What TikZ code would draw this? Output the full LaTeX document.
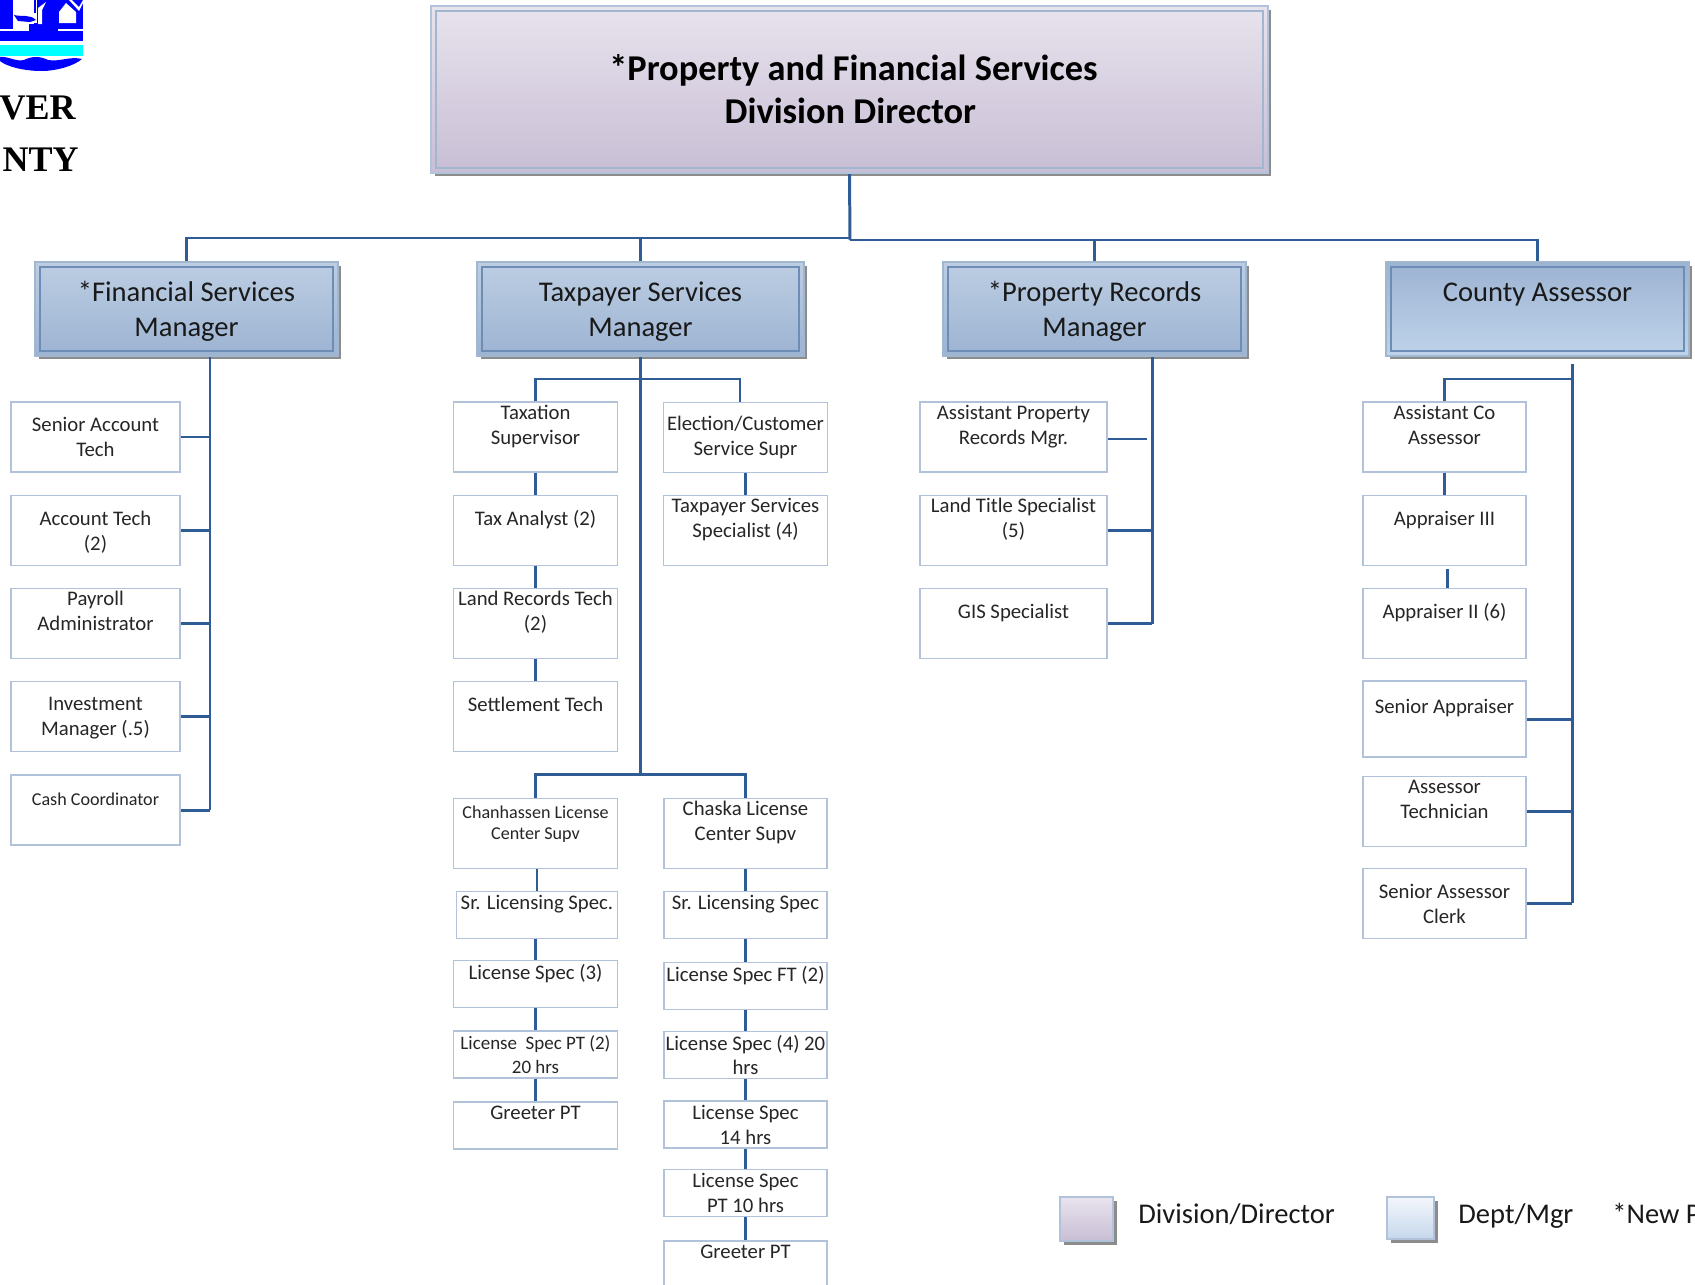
\documentclass[tikz,border=0pt]{standalone}
\usepackage{fontspec}
\setmainfont{Carlito}
\newfontfamily\logofont{Liberation Serif}
\usetikzlibrary{shadows}
\definecolor{orgline}{HTML}{2F5C94}
\definecolor{jobframe}{HTML}{B2C2DB}
\definecolor{logoblue}{HTML}{0000FF}
\definecolor{logocyan}{HTML}{00FFFF}
\definecolor{dirtop}{HTML}{E8E3ED}
\definecolor{dirbottom}{HTML}{C8BED5}
\definecolor{mgrtop}{HTML}{BDCEE3}
\definecolor{mgrbottom}{HTML}{9CB3D2}
\definecolor{mgrpale}{HTML}{BFD3EA}
\definecolor{depttop}{HTML}{F3F6FB}
\definecolor{deptbottom}{HTML}{C6D8EC}
\tikzset{
	connector/.style={draw=orgline, line width=1.7pt},
	doubleframe/.style={path picture={\draw[draw=#1, line width=0.7pt] ([xshift=0.1cm,yshift=0.1cm]path picture bounding box.south west) rectangle ([xshift=-0.1cm,yshift=-0.1cm]path picture bounding box.north east);}},
	lift/.style={drop shadow={shadow xshift=0.07cm, shadow yshift=-0.07cm, fill=black!45, opacity=1}},
	directorbox/.style={rectangle, lift, draw=jobframe, line width=1.2pt, top color=dirtop, bottom color=dirbottom, doubleframe=orgline!45, minimum width=16.74cm, minimum height=3.34cm, inner sep=0pt, align=center, font=\fontsize{20.7}{24.6}\selectfont\bfseries},
	managerbox/.style={rectangle, lift, draw=orgline!45, line width=1pt, top color=mgrtop, bottom color=mgrbottom, doubleframe=orgline!70, minimum width=6.06cm, minimum height=1.88cm, inner sep=0pt, align=center, text=black!90, text height=33.8pt, font=\fontsize{16.25}{19.6}\selectfont},
	jobbox/.style={rectangle, draw=jobframe, fill=white, line width=0.8pt, minimum height=1.4cm, inner sep=0pt, align=center, text=black!85, font=\fontsize{11.8}{14.2}\selectfont},
	smalljob/.style={font=\fontsize{10.3}{12.3}\selectfont},
	swatch/.style={rectangle, lift, draw=jobframe, line width=0.8pt, inner sep=0pt},
	legendtext/.style={inner sep=0pt, anchor=west, text=black!90, text height=12pt, text depth=4pt, font=\fontsize{16.25}{19.6}\selectfont},
	logotext/.style={inner sep=0pt, anchor=base east, font=\fontsize{20.5}{24}\selectfont\logofont\bfseries}
}
\begin{document}
\begin{tikzpicture}[x=0.02cm, y=-0.02cm]
	\useasboundingbox (0,0) rectangle (1695,1285);

	% logo, only its cut off right part
	\fill[logoblue] (0,0) rectangle (83,29);
	\fill[white] (13,0) rectangle (34,31);
	\fill[white] (34,0) -- (37,0) -- (37,23) -- (34,23) -- cycle;
	\fill[logoblue] (14,15) .. controls (22,17) and (30,14) .. (36,20) -- (30,22) -- (18,21) -- cycle;
	\fill[logoblue] (29,24) rectangle (58,31);
	\fill[logoblue] (34,0) rectangle (36,13);
	\fill[white] (38,8) -- (46,2) -- (42,10) -- (42,24) -- (38,24) -- cycle;
	\fill[white] (59,12) -- (66,3) -- (76,12) -- (76,23) -- (59,23) -- cycle;
	\fill[white] (69,0) -- (72,0) -- (79,7) -- (83,0) -- (83,3) -- (79,11) -- cycle;
	\fill[logoblue] (0,31) rectangle (83,41);
	\fill[logocyan] (0,45) rectangle (83,56);
	\fill[logoblue] (0,57) .. controls (8,56) and (16,62) .. (24,60) .. controls (32,56) and (40,56) .. (48,60) .. controls (60,62) and (70,56) .. (82,59) .. controls (74,66) and (56,71) .. (42,71) .. controls (22,71) and (6,66) .. (0,61) -- cycle;
	\node[logotext] (logoLineOne) at (76,119) {VER};
	\node[logotext] (logoLineTwo) at (79,171) {NTY};

	% top of the chart
	\node[directorbox](director) at (849.5,89.5){\hspace*{4.5pt}*Property and Financial Services\\\hspace*{1pt}Division Director};
	\node[managerbox](finMgr) at (186.5,309){*Financial Services\\Manager};
	\node[managerbox, minimum width=6.54cm](taxMgr) at (640.5,309){Taxpayer Services\\Manager};
	\node[managerbox](recMgr) at (1094.5,309){*Property Records\\Manager};
	\node[managerbox, text depth=3.4pt, top color=mgrbottom, bottom color=mgrpale](assessor) at (1537.5,309){County Assessor\\~};

	% finance column
	\node[jobbox, minimum width=3.38cm](seniorTech) at (95.5,437){Senior Account\\Tech};
	\node[jobbox, minimum width=3.38cm, text depth=0pt](accountTech) at (95.5,530.5){Account Tech\\(2)};
	\node[jobbox, minimum width=3.38cm](payroll) at (95.5,623.5){Payroll\\Administrator\\~};
	\node[jobbox, minimum width=3.38cm, text depth=0pt](investment) at (95.5,716.5){Investment\\Manager (.5)};
	\node[jobbox, smalljob, minimum width=3.38cm](cash) at (95.5,810){Cash Coordinator\\~};

	% taxpayer columns
	\node[jobbox, minimum width=3.28cm](taxSup) at (535.5,437){Taxation\\Supervisor\\~};
	\node[jobbox, minimum width=3.28cm](taxAnalyst) at (535.5,530.5){Tax Analyst (2)\\~};
	\node[jobbox, minimum width=3.28cm](landRecords) at (535.5,623.5){Land Records Tech\\(2)\\~};
	\node[jobbox, minimum width=3.28cm](settlement) at (535.5,716.5){Settlement Tech\\~};
	\node[jobbox, minimum width=3.28cm](electionSup) at (745.5,437.5){Election/Customer\\Service Supr};
	\node[jobbox, minimum width=3.28cm](taxSpec) at (745.5,530.5){Taxpayer Services\\Specialist (4)\\~};

	% license centers
	\node[jobbox, smalljob, minimum width=3.28cm](chanSup) at (535.5,833.5){Chanhassen License\\Center Supv\\~};
	\node[jobbox, minimum width=3.22cm, minimum height=0.94cm](chanSr) at (537,915){Sr. Licensing Spec.\\~};
	\node[jobbox, minimum width=3.28cm, minimum height=0.94cm](chanSpec) at (535.5,984){License Spec (3)\\~};
	\node[jobbox, minimum width=3.28cm, minimum height=0.94cm, font=\fontsize{10.8}{14}\selectfont](chanPart) at (535.5,1054.5){License\ \ Spec PT (2)\\20 hrs};
	\node[jobbox, minimum width=3.28cm, minimum height=0.94cm](chanGreeter) at (535.5,1125.5){Greeter PT\\~};
	\node[jobbox, minimum width=3.26cm](chaskaSup) at (745.5,833.5){Chaska License\\Center Supv\\~};
	\node[jobbox, minimum width=3.26cm, minimum height=0.94cm](chaskaSr) at (745.5,915){Sr. Licensing Spec\\~};
	\node[jobbox, minimum width=3.26cm, minimum height=0.94cm](chaskaFull) at (745.5,986){License Spec FT (2)\\~};
	\node[jobbox, minimum width=3.26cm, minimum height=0.94cm](chaskaFour) at (745.5,1055){License Spec (4) 20\\hrs};
	\node[jobbox, minimum width=3.26cm, minimum height=0.94cm](chaskaFourteen) at (745.5,1124.5){License Spec\\14 hrs};
	\node[jobbox, minimum width=3.26cm, minimum height=0.94cm](chaskaTen) at (745.5,1193){License Spec\\PT 10 hrs};
	\node[jobbox, minimum width=3.26cm, minimum height=0.94cm](chaskaGreeter) at (745.5,1264.5){Greeter PT\\~};

	% property records column
	\node[jobbox, minimum width=3.74cm](assistProp) at (1013.5,437){Assistant Property\\Records Mgr.\\~};
	\node[jobbox, minimum width=3.74cm](landTitle) at (1013.5,530.5){Land Title Specialist\\(5)\\~};
	\node[jobbox, minimum width=3.74cm](gisSpec) at (1013.5,623.5){GIS Specialist\\~};

	% assessor column
	\node[jobbox, minimum width=3.26cm](assistCo) at (1444.5,437){Assistant Co\\Assessor\\~};
	\node[jobbox, minimum width=3.26cm](appraiserThree) at (1444.5,530.5){Appraiser III\\~};
	\node[jobbox, minimum width=3.26cm](appraiserTwo) at (1444.5,623.5){Appraiser II (6)\\~};
	\node[jobbox, minimum width=3.26cm, minimum height=1.52cm](seniorAppraiser) at (1444.5,719){Senior Appraiser\\~};
	\node[jobbox, minimum width=3.26cm](assessorTech) at (1444.5,811.5){Assessor\\Technician\\~};
	\node[jobbox, minimum width=3.26cm](assessorClerk) at (1444.5,903.5){Senior Assessor\\Clerk};

	% legend
	\node[swatch, minimum width=1.06cm, minimum height=0.88cm, top color=dirtop, bottom color=dirbottom](legendDir) at (1086.5,1219){};
	\node[swatch, minimum width=0.94cm, minimum height=0.84cm, top color=depttop, bottom color=deptbottom](legendMgr) at (1410.5,1218){};
	\node[legendtext](legendDirText) at (1138,1216){Division/Director};
	\node[legendtext](legendMgrText) at (1458,1216){Dept/Mgr};
	\node[legendtext](legendNew) at (1612,1216){*New P};

	% bus under the director
	\coordinate (busLeft) at (850,238);
	\coordinate (busRight) at (850,240);
	\draw[connector] (director.south) -- (busRight);
	\draw[connector] (busLeft) -| (finMgr.north);
	\draw[connector] (busLeft) -| (taxMgr.north);
	\draw[connector] (busRight) -| (recMgr.north);
	\draw[connector] (busRight) -| (assessor.north);

	% finance trunk
	\coordinate (finTrunk) at (210,810);
	\draw[connector] (finTrunk |- finMgr.south) -- (finTrunk);
	\foreach \job in {seniorTech,accountTech,payroll,investment,cash}
		\draw[connector] (\job.east) -- (\job.east -| finTrunk);

	% taxpayer trunk
	\coordinate (taxTrunk) at (640.5,774);
	\coordinate (taxBar) at (640.5,379);
	\coordinate (electionDrop) at (740,402);
	\draw[connector] (taxMgr.south) -- (taxTrunk);
	\draw[connector] (taxSup.north) |- (taxBar) -| (electionDrop);
	\draw[connector] (chanSup.north) |- (taxTrunk) -| (chaskaSup.north);
	\foreach \upper/\lower in {taxSup/taxAnalyst,taxAnalyst/landRecords,landRecords/settlement,electionSup/taxSpec,chanSup/chanSr,chanSr/chanSpec,chanSpec/chanPart,chanPart/chanGreeter,chaskaSup/chaskaSr,chaskaSr/chaskaFull,chaskaFull/chaskaFour,chaskaFour/chaskaFourteen,chaskaFourteen/chaskaTen,chaskaTen/chaskaGreeter}
		\draw[connector] (\lower.north |- \upper.south) -- (\lower.north);

	% property records trunk
	\coordinate (recTrunk) at (1152,623.5);
	\coordinate (assistStub) at (1147,439);
	\draw[connector] (recTrunk |- recMgr.south) -- (recTrunk);
	\draw[connector] (assistStub -| assistProp.east) -- (assistStub);
	\draw[connector] (landTitle.east) -- (landTitle.east -| recTrunk);
	\draw[connector] (gisSpec.east) -- (recTrunk);

	% assessor trunk
	\coordinate (coTrunkTop) at (1572,364);
	\coordinate (coTrunkEnd) at (1572,903);
	\coordinate (coBar) at (1572,379);
	\coordinate (appraiserStub) at (1447,569);
	\draw[connector] (coTrunkTop) -- (coTrunkEnd);
	\draw[connector] (assistCo.north) |- (coBar);
	\draw[connector] (assistCo.south) -- (appraiserThree.north);
	\draw[connector] (appraiserStub) -- (appraiserStub |- appraiserTwo.north);
	\foreach \job in {seniorAppraiser,assessorTech,assessorClerk}
		\draw[connector] (\job.east) -- (\job.east -| coTrunkEnd);
\end{tikzpicture}
\end{document}
